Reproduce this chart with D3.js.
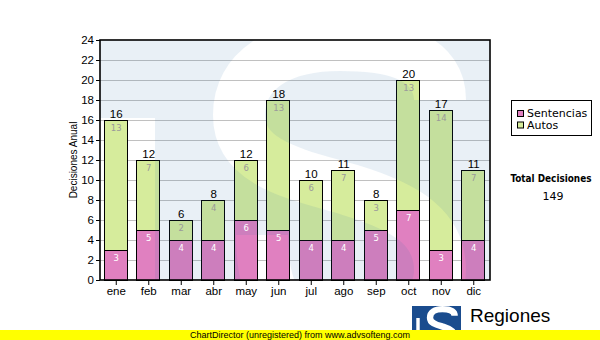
<!DOCTYPE html>
<html>
<head>
<meta charset="utf-8">
<script src="https://cdn.jsdelivr.net/npm/d3@7"></script>
<style>
  html, body { margin: 0; padding: 0; background: #fff; }
  svg { display: block; }
</style>
</head>
<body>
<svg id="chart" width="600" height="340"></svg>
<script>
// Monthly decisions, split by type
const months = ["ene", "feb", "mar", "abr", "may", "jun", "jul", "ago", "sep", "oct", "nov", "dic"];
const sentencias = [3, 5, 4, 4, 6, 5, 4, 4, 5, 7, 3, 4];
const autos = [13, 7, 2, 4, 6, 13, 6, 7, 3, 13, 14, 7];
const yTicks = [0, 2, 4, 6, 8, 10, 12, 14, 16, 18, 20, 22, 24];
const seriesNames = ["Sentencias", "Autos"];
const seriesColors = ["#e080c0", "#d6ec9c"];
const yTitle = "Decisiones Anual";
const totalTitle = "Total Decisiones";
const brandName = "Regiones";
const brandTagline = "Tribunal Supremo de Justicia";
const footerText = "ChartDirector (unregistered) from www.advsofteng.com";

const sansArial = "'Liberation Sans', Arial, sans-serif";
const sansTahoma = "'DejaVu Sans', Verdana, sans-serif";

const svg = d3.select("#chart");
const plot = { left: 100, right: 490, top: 40, bottom: 280 };

const x = d3.scaleBand()
  .domain(months)
  .range([plot.left, plot.right])
  .paddingInner(0.28)
  .paddingOuter(0.14);

const y = d3.scaleLinear().domain([0, 24]).range([plot.bottom, plot.top]);

const rows = months.map((m, i) => ({ month: m, sentencias: sentencias[i], autos: autos[i] }));
const stack = d3.stack().keys(["sentencias", "autos"])(rows);
const totals = rows.map(r => r.sentencias + r.autos);
const grandTotal = d3.sum(totals);

// Logo geometry (big "S" mark), in watermark space
const sMark = "M440,100 C440,60 400,45 340,45 C280,45 239,70 239,115 C239,165 300,175 350,190 " +
              "C410,208 440,230 440,270 C440,315 395,335 335,335 C295,335 262,310 262,235";
const markBox = { x: 92, y: 20, w: 400, h: 400 };
const markStrip = { x: 92, y: 118, w: 63, h: 302 };
const markStroke = 52;

const defs = svg.append("defs");
const mask = defs.append("mask")
  .attr("id", "wm")
  .attr("maskUnits", "userSpaceOnUse")
  .attr("x", 0).attr("y", 0).attr("width", 600).attr("height", 340);
mask.append("rect")
  .attr("x", markBox.x).attr("y", markBox.y).attr("width", markBox.w).attr("height", markBox.h)
  .attr("fill", "#fff");
mask.append("path").attr("d", sMark)
  .attr("fill", "none").attr("stroke", "#000").attr("stroke-width", markStroke);
mask.append("rect")
  .attr("x", markStrip.x).attr("y", markStrip.y).attr("width", markStrip.w).attr("height", markStrip.h)
  .attr("fill", "#000");

// Plot background
svg.append("rect")
  .attr("x", plot.left).attr("y", plot.top)
  .attr("width", plot.right - plot.left).attr("height", plot.bottom - plot.top)
  .attr("fill", "#fff");

// Horizontal grid
svg.append("g")
  .selectAll("line")
  .data(yTicks.filter(t => t > 0 && t < 24))
  .join("line")
  .attr("x1", plot.left).attr("x2", plot.right)
  .attr("y1", d => Math.round(y(d)) + 0.5)
  .attr("y2", d => Math.round(y(d)) + 0.5)
  .attr("stroke", "#c0c0c0")
  .attr("stroke-width", 1);

// Stacked bars
const bw = Math.round(x.bandwidth());
svg.append("g")
  .selectAll("g")
  .data(stack)
  .join("g")
  .attr("fill", (d, i) => seriesColors[i])
  .selectAll("rect")
  .data(d => d)
  .join("rect")
  .attr("x", d => Math.round(x(d.data.month)) - 0.5)
  .attr("y", d => Math.round(y(d[1])) + 0.5)
  .attr("width", bw)
  .attr("height", d => Math.round(y(d[0])) - Math.round(y(d[1])))
  .attr("stroke", "#000")
  .attr("stroke-width", 1);

// Watermark tint over the plot area
svg.append("rect")
  .attr("x", plot.left).attr("y", plot.top)
  .attr("width", plot.right - plot.left).attr("height", plot.bottom - plot.top)
  .attr("fill", "rgb(40,105,165)")
  .attr("fill-opacity", 0.1)
  .attr("mask", "url(#wm)");

// Segment value labels
const segLabelColors = ["#ffffff", "#9a9a9a"];
svg.append("g")
  .selectAll("g")
  .data(stack)
  .join("g")
  .attr("fill", (d, i) => segLabelColors[i])
  .selectAll("text")
  .data(d => d)
  .join("text")
  .attr("x", d => x(d.data.month) + x.bandwidth() / 2)
  .attr("y", d => y(d[1]) + 10.5)
  .attr("text-anchor", "middle")
  .attr("font-family", sansTahoma)
  .attr("font-size", 8.5)
  .text(d => d[1] - d[0]);

// Totals above bars
svg.append("g")
  .selectAll("text")
  .data(rows)
  .join("text")
  .attr("x", d => x(d.month) + x.bandwidth() / 2)
  .attr("y", (d, i) => y(totals[i]) - 2)
  .attr("text-anchor", "middle")
  .attr("font-family", sansArial)
  .attr("font-size", 11.5)
  .attr("fill", "#000")
  .text((d, i) => totals[i]);

// Plot border
svg.append("rect")
  .attr("x", plot.left).attr("y", plot.top)
  .attr("width", plot.right - plot.left).attr("height", plot.bottom - plot.top)
  .attr("fill", "none")
  .attr("stroke", "#000")
  .attr("stroke-width", 1.6);

// Axes
const yAxis = svg.append("g")
  .attr("transform", `translate(${plot.left},0)`)
  .call(d3.axisLeft(y).tickValues(yTicks).tickSize(4).tickPadding(2));
yAxis.select(".domain").remove();
yAxis.selectAll("line").attr("stroke", "#000");
yAxis.selectAll("text")
  .attr("font-family", sansArial).attr("font-size", 11.5).attr("fill", "#000");

const xAxis = svg.append("g")
  .attr("transform", `translate(0,${plot.bottom})`)
  .call(d3.axisBottom(x).tickSize(5).tickPadding(2));
xAxis.select(".domain").remove();
xAxis.selectAll("line").attr("stroke", "#000");
xAxis.selectAll("text")
  .attr("font-family", sansArial).attr("font-size", 11.5).attr("fill", "#000");

// Y axis title
svg.append("text")
  .attr("transform", `translate(77,${(plot.top + plot.bottom) / 2}) rotate(-90)`)
  .attr("text-anchor", "middle")
  .attr("font-family", sansArial)
  .attr("font-size", 10)
  .attr("fill", "#000")
  .text(yTitle);

// Legend
const legend = svg.append("g");
legend.append("rect")
  .attr("x", 511.5).attr("y", 100.5).attr("width", 80).attr("height", 35)
  .attr("fill", "#fff").attr("stroke", "#000").attr("stroke-width", 1);
const items = legend.selectAll("g.item")
  .data(seriesNames)
  .join("g")
  .attr("class", "item")
  .attr("transform", (d, i) => `translate(517.5,${110.5 + i * 11.5})`);
items.append("rect")
  .attr("width", 6).attr("height", 6)
  .attr("fill", (d, i) => seriesColors[i])
  .attr("stroke", "#000").attr("stroke-width", 1);
items.append("text")
  .attr("x", 9.5).attr("y", 6.5)
  .attr("font-family", sansTahoma)
  .attr("font-size", 11)
  .attr("fill", "#000")
  .text(d => d);

// Grand total
svg.append("text")
  .attr("x", 551).attr("y", 181.5)
  .attr("text-anchor", "middle")
  .attr("font-family", "'DejaVu Sans Condensed', 'DejaVu Sans', sans-serif")
  .attr("font-weight", "bold")
  .attr("font-size", 10)
  .attr("textLength", 81)
  .attr("lengthAdjust", "spacingAndGlyphs")
  .attr("fill", "#000")
  .text(totalTitle);
svg.append("text")
  .attr("x", 553).attr("y", 200)
  .attr("text-anchor", "middle")
  .attr("font-family", sansTahoma)
  .attr("font-size", 11)
  .attr("fill", "#000")
  .text(grandTotal);

// Brand mark (same geometry, scaled down)
const brand = svg.append("g")
  .attr("transform", "translate(412,306) scale(0.1225) translate(-92,-20)");
brand.append("rect")
  .attr("x", markBox.x).attr("y", markBox.y).attr("width", markBox.w).attr("height", markBox.h)
  .attr("fill", "#1a4c8e");
brand.append("path").attr("d", sMark)
  .attr("fill", "none").attr("stroke", "#fff").attr("stroke-width", markStroke);
brand.append("rect")
  .attr("x", 127).attr("y", markStrip.y).attr("width", 28).attr("height", markStrip.h)
  .attr("fill", "#fff");

svg.append("text")
  .attr("x", 470).attr("y", 322)
  .attr("font-family", sansArial)
  .attr("font-size", 19)
  .attr("fill", "#000")
  .text(brandName);
svg.append("text")
  .attr("x", 467).attr("y", 336.5)
  .attr("font-family", sansArial)
  .attr("font-size", 9)
  .attr("textLength", 125)
  .attr("fill", "#000")
  .text(brandTagline);

// Footer band
svg.append("rect")
  .attr("x", 0).attr("y", 330).attr("width", 600).attr("height", 10)
  .attr("fill", "#ffff00");
svg.append("text")
  .attr("x", 300).attr("y", 337.5)
  .attr("text-anchor", "middle")
  .attr("font-family", sansArial)
  .attr("font-size", 9.5)
  .attr("textLength", 220)
  .attr("lengthAdjust", "spacingAndGlyphs")
  .attr("fill", "#000")
  .text(footerText);
</script>
</body>
</html>
